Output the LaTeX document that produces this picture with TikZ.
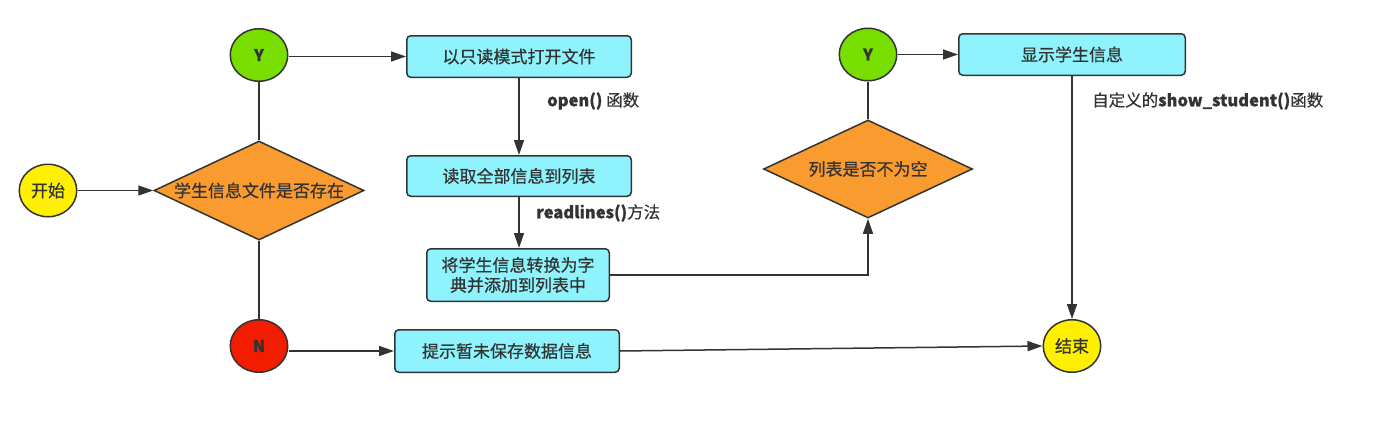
\documentclass[tikz,border=0pt]{standalone}
\usepackage{fontspec}
\setmainfont{Noto Sans CJK SC}[FakeBold=0.6]
\usetikzlibrary{shapes.geometric,arrows.meta}
\definecolor{boxfill}{HTML}{8EF3FC}
\definecolor{orangefill}{HTML}{F99B2F}
\definecolor{greenfill}{HTML}{77DE00}
\definecolor{redfill}{HTML}{F21C00}
\definecolor{yellowfill}{HTML}{FFF000}
\definecolor{linecol}{HTML}{333333}
\tikzset{
  base/.style={draw=linecol, line width=1.5pt, text=linecol, font=\fontsize{17}{20}\selectfont, inner sep=0pt},
  procbox/.style={base, rectangle, rounded corners=4pt, fill=boxfill},
  decision/.style={base, diamond, aspect=2.1, fill=orangefill},
  term/.style={base, ellipse, minimum width=57.5pt, minimum height=52.5pt},
  yn/.style={font=\fontsize{16}{18}\selectfont\bfseries},
  conn/.style={draw=linecol, line width=1.5pt},
  arr/.style={conn, -{Triangle[length=15pt,width=10pt]}},
  lbl/.style={text=linecol, font=\fontsize{16.5}{20}\selectfont, anchor=west, inner sep=0pt}
}
\begin{document}
\begin{tikzpicture}[x=1pt,y=-1pt]
\useasboundingbox (0,0) rectangle (1381,423);
\node[term, fill=yellowfill] (start) at (48,190.5) {开始};
\node[decision, minimum width=210pt, minimum height=99pt] (d1) at (259,190.5) {学生信息文件是否存在};
\node[term, yn, fill=greenfill] (y1) at (259,55) {Y};
\node[term, yn, fill=redfill] (n1) at (259,346) {N};
\node[procbox, minimum width=224.5pt, minimum height=41.5pt] (b1) at (519,56.5) {以只读模式打开文件};
\node[procbox, minimum width=224.5pt, minimum height=40.5pt] (b2) at (519,176) {读取全部信息到列表};
\node[procbox, minimum width=182.5pt, minimum height=52.5pt, align=center] (b3) at (518,275) {将学生信息转换为字\\典并添加到列表中};
\node[procbox, minimum width=224.5pt, minimum height=42.5pt] (b4) at (507,351) {提示暂未保存数据信息};
\node[decision, minimum width=209pt, minimum height=98pt] (d2) at (868,169) {列表是否不为空};
\node[term, yn, fill=greenfill] (y2) at (868,54.5) {Y};
\node[procbox, minimum width=226.5pt, minimum height=41.5pt] (b5) at (1072,54.5) {显示学生信息};
\node[term, fill=yellowfill] (end) at (1072,346) {结束};
\node[lbl] (l1) at (547,101) {{\bfseries open()} 函数};
\node[lbl] (l2) at (536,213) {{\bfseries readlines()}方法};
\node[lbl] (l3) at (1092,101) {自定义的{\bfseries show\_student()}函数};
\draw[arr] (start) -- (d1);
\draw[conn] (d1.north) -- (y1.south);
\draw[conn] (d1.south) -- (n1.north);
\draw[arr] (y1.east |- b1.west) -- (b1.west);
\draw[arr] (b1) -- (b2);
\draw[arr] (b2.south) -- (b2.south |- b3.north);
\draw[arr] (n1.east |- b4.west) -- (b4.west);
\draw[arr] (b3.east) -| (d2.south);
\draw[conn] (d2.north) -- (y2.south);
\draw[arr] (y2) -- (b5);
\draw[arr] (b5) -- (end);
\draw[arr] (b4.east) -- (end.west);
\end{tikzpicture}
\end{document}
